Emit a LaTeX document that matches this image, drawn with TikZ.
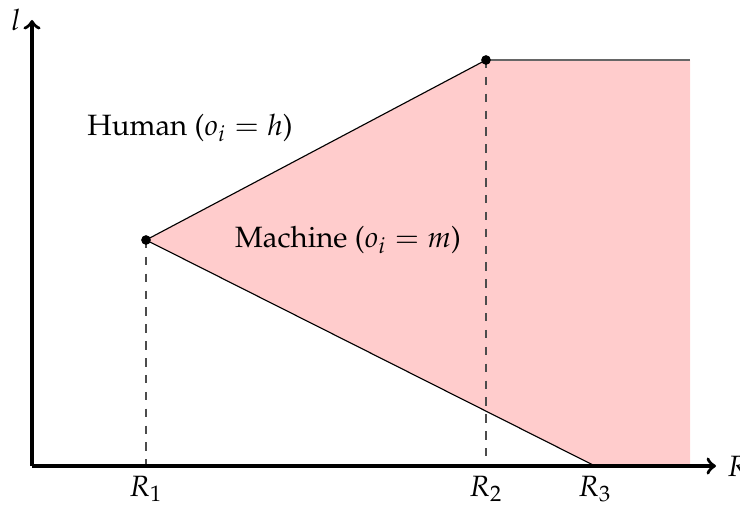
\documentclass[tikz,border=0pt]{standalone}
\usepackage{amsmath,amssymb}
\usepackage[T1]{fontenc}
\usepackage{mathpazo}
\usepackage{xcolor}
\usepackage{tikz}

\begin{document}
\begin{tikzpicture}[font=\fontsize{10.45}{12.5}\selectfont]
        \useasboundingbox (-0.4, -0.525) rectangle (8.85, 5.825);

        % Key points
        \coordinate (o)  at (0, 0);
        \coordinate (p1) at (1.425, 2.825);
        \coordinate (p2) at (5.675, 5.075);
        \coordinate (p3) at (7.0375, 0);
        \coordinate (e1) at (8.225, 5.075);
        \coordinate (e2) at (8.225, 0);
        \coordinate (xend) at (8.55, 0);
        \coordinate (yend) at (0, 5.575);

        % Machine region
        \fill[red!20] (p1) -- (p2) -- (e1) -- (e2) -- (p3) -- cycle;

        % Boundaries
        \draw (p1) -- (p2);
        \draw[black!60] (p2) -- (e1);
        \draw (p1) -- (p3);

        % Projections onto the axis
        \draw[dashed, black!70] (p1) -- (p1 |- o);
        \draw[dashed, black!70] (p2) -- (p2 |- o);

        % Axes
        \draw[->, very thick] (o) -- (xend) node[right] {$R$};
        \draw[->, very thick] (o) -- (yend) node[left]  {$l$};

        % Tick labels
        \node[below] (r1) at (p1 |- o) {$R_1$};
        \node[below] (r2) at (p2 |- o) {$R_2$};
        \node[below] (r3) at (p3)      {$R_3$};

        % Region labels
        \node (human)   at (1.975, 4.225) {Human ($o_i = h$)};
        \node (machine) at (3.95, 2.825)  {Machine ($o_i = m$)};

        % Break points
        \filldraw (p1) circle (1.5pt);
        \filldraw (p2) circle (1.5pt);
    \end{tikzpicture}
\end{document}
